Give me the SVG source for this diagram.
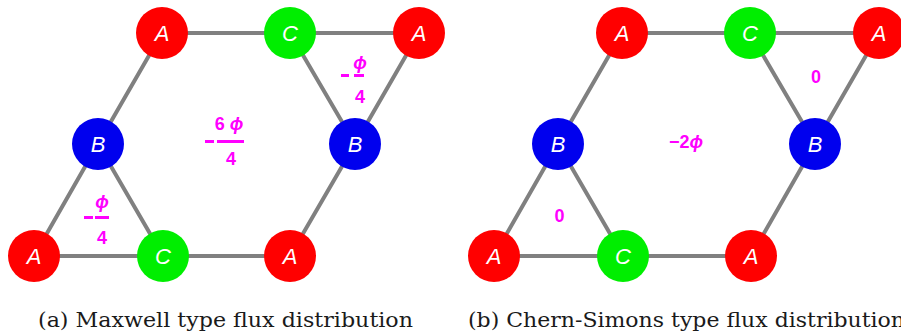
<svg xmlns="http://www.w3.org/2000/svg" width="901" height="335" viewBox="0 0 901 335">
<style>
.e{stroke:#808080;stroke-width:4;fill:none}
.n text{font-family:"Liberation Sans",Arial,sans-serif;font-style:italic;font-size:22px;fill:#fff;text-anchor:middle;dominant-baseline:central}
.f{font-family:"Liberation Sans",Arial,sans-serif;font-weight:bold;font-size:18px;fill:#ff00ff;text-anchor:middle}
.cap{font-family:"DejaVu Serif",serif;font-size:19.5px;fill:#1a1a1a}
.bar{fill:#ff00ff}
</style>
<rect width="901" height="335" fill="#fff"/>
<g id="connectors">
<path class="e" d="M162,33H290H419M162,33L98,144L34,256H163H290L355,144L290,33M419,33L355,144M98,144L163,256"/>
<path class="e" d="M622,33H750H879M622,33L558,144L494,256H623H751L815,144L750,33M879,33L815,144M558,144L623,256"/>
</g>
<g id="a_A1" class="n"><circle cx="162" cy="33" r="26" fill="#ff0000"/><text x="162" y="33">A</text></g>
<g id="a_C1" class="n"><circle cx="290" cy="33" r="26" fill="#00ee00"/><text x="290" y="33">C</text></g>
<g id="a_A2" class="n"><circle cx="419" cy="33" r="26" fill="#ff0000"/><text x="419" y="33">A</text></g>
<g id="a_B1" class="n"><circle cx="98" cy="144" r="26" fill="#0000ee"/><text x="98" y="144">B</text></g>
<g id="a_B2" class="n"><circle cx="355" cy="144" r="26" fill="#0000ee"/><text x="355" y="144">B</text></g>
<g id="a_A3" class="n"><circle cx="34" cy="256" r="26" fill="#ff0000"/><text x="34" y="256">A</text></g>
<g id="a_C2" class="n"><circle cx="163" cy="256" r="26" fill="#00ee00"/><text x="163" y="256">C</text></g>
<g id="a_A4" class="n"><circle cx="290" cy="256" r="26" fill="#ff0000"/><text x="290" y="256">A</text></g>

<g id="b_A1" class="n"><circle cx="622" cy="33" r="26" fill="#ff0000"/><text x="622" y="33">A</text></g>
<g id="b_C1" class="n"><circle cx="750" cy="33" r="26" fill="#00ee00"/><text x="750" y="33">C</text></g>
<g id="b_A2" class="n"><circle cx="879" cy="33" r="26" fill="#ff0000"/><text x="879" y="33">A</text></g>
<g id="b_B1" class="n"><circle cx="558" cy="144" r="26" fill="#0000ee"/><text x="558" y="144">B</text></g>
<g id="b_B2" class="n"><circle cx="815" cy="144" r="26" fill="#0000ee"/><text x="815" y="144">B</text></g>
<g id="b_A3" class="n"><circle cx="494" cy="256" r="26" fill="#ff0000"/><text x="494" y="256">A</text></g>
<g id="b_C2" class="n"><circle cx="623" cy="256" r="26" fill="#00ee00"/><text x="623" y="256">C</text></g>
<g id="b_A4" class="n"><circle cx="751" cy="256" r="26" fill="#ff0000"/><text x="751" y="256">A</text></g>

<g id="flux_a_center">
<rect class="bar" x="205" y="140" width="9" height="3"/>
<rect class="bar" x="217" y="140" width="27" height="3"/>
<text class="f" x="229" y="130">6 <tspan font-style="italic">ϕ</tspan></text>
<text class="f" x="231" y="165">4</text>
</g>
<g id="flux_a_top">
<rect class="bar" x="341" y="74" width="8" height="3"/>
<rect class="bar" x="354" y="74" width="10" height="3"/>
<text class="f" x="360" y="69" font-style="italic">ϕ</text>
<text class="f" x="360" y="103">4</text>
</g>
<g id="flux_a_bottom">
<rect class="bar" x="84" y="216" width="9" height="3"/>
<rect class="bar" x="95" y="216" width="14" height="3"/>
<text class="f" x="102" y="208" font-style="italic">ϕ</text>
<text class="f" x="102" y="244">4</text>
</g>
<g id="flux_b">
<text class="f" x="686" y="148">−2<tspan font-style="italic">ϕ</tspan></text>
<text class="f" x="816" y="83">0</text>
<text class="f" x="559.5" y="222">0</text>
</g>
<text class="cap" x="38" y="327" textLength="375" lengthAdjust="spacingAndGlyphs">(a) Maxwell type flux distribution</text>
<text class="cap" x="468" y="327" textLength="437" lengthAdjust="spacingAndGlyphs">(b) Chern-Simons type flux distribution</text>
</svg>
